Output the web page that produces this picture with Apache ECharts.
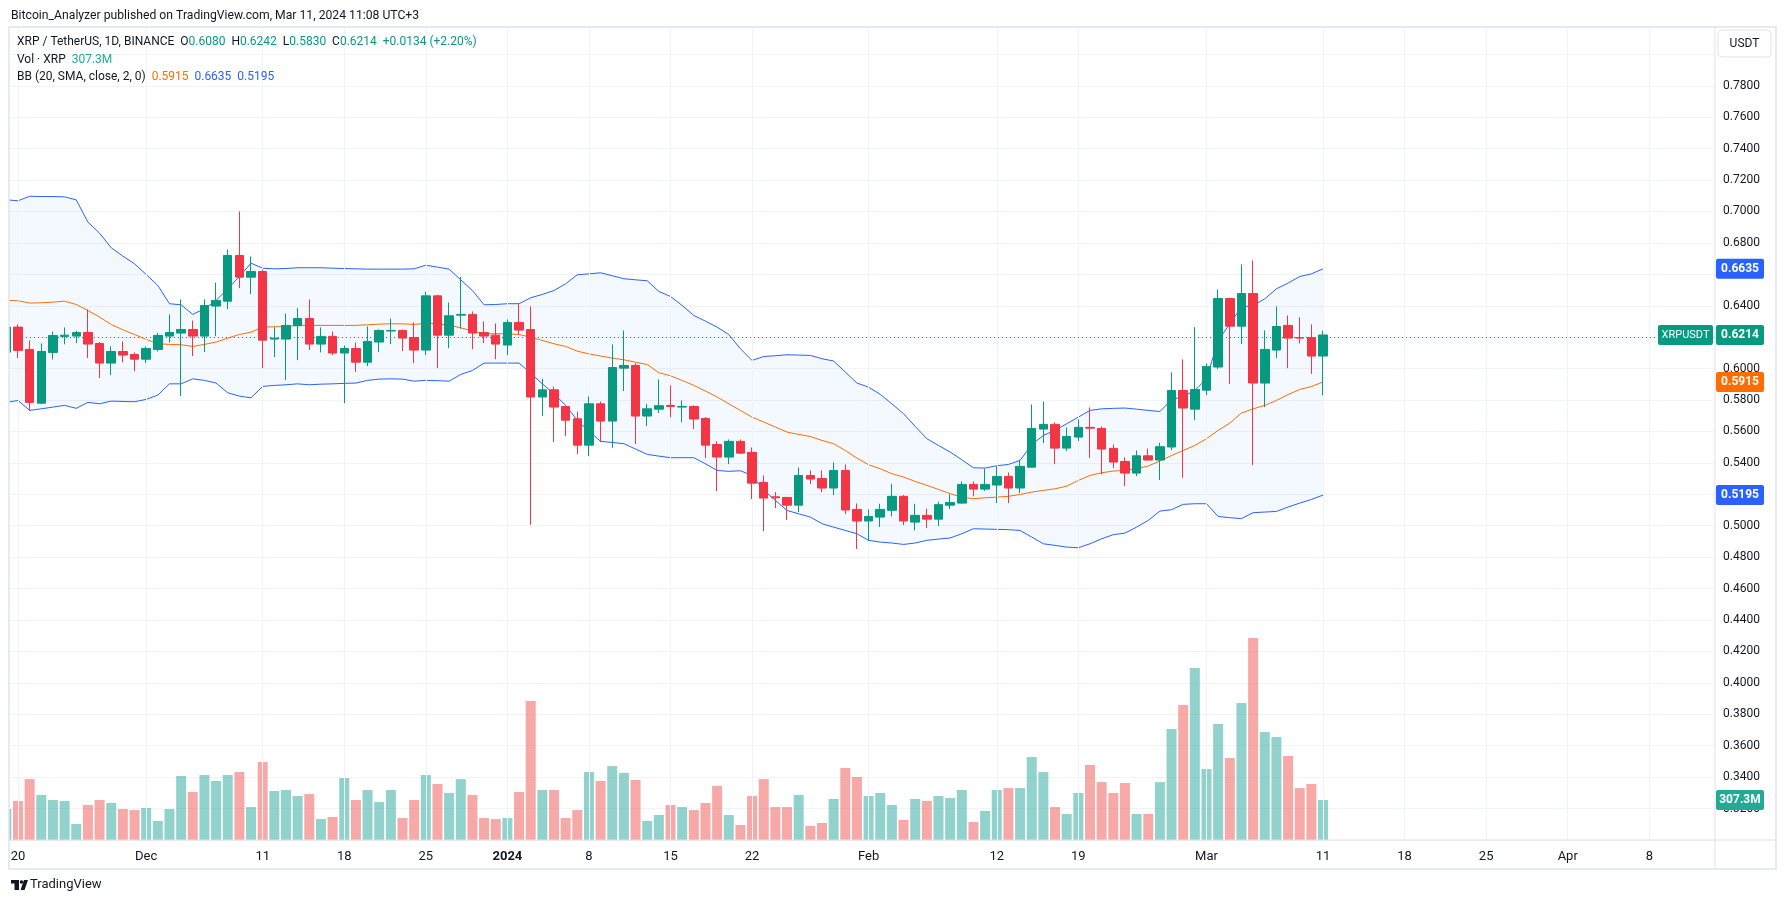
<!DOCTYPE html>
<html><head><meta charset="utf-8">
<script src="https://cdn.jsdelivr.net/npm/echarts@6/dist/echarts.min.js"></script>
<style>html,body{margin:0;padding:0;background:#fff}#c{width:1787px;height:904px}</style>
</head><body><div id="c"></div>
<script>
// ---------- DATA (index 0 = 2023-11-19, partially visible) ----------
const dates = ['11-19','11-20','11-21','11-22','11-23','11-24','11-25','11-26','11-27','11-28','11-29','11-30',
'12-01','12-02','12-03','12-04','12-05','12-06','12-07','12-08','12-09','12-10','12-11','12-12','12-13','12-14','12-15','12-16','12-17','12-18','12-19','12-20','12-21','12-22','12-23','12-24','12-25','12-26','12-27','12-28','12-29','12-30','12-31',
'01-01','01-02','01-03','01-04','01-05','01-06','01-07','01-08','01-09','01-10','01-11','01-12','01-13','01-14','01-15','01-16','01-17','01-18','01-19','01-20','01-21','01-22','01-23','01-24','01-25','01-26','01-27','01-28','01-29','01-30','01-31',
'02-01','02-02','02-03','02-04','02-05','02-06','02-07','02-08','02-09','02-10','02-11','02-12','02-13','02-14','02-15','02-16','02-17','02-18','02-19','02-20','02-21','02-22','02-23','02-24','02-25','02-26','02-27','02-28','02-29',
'03-01','03-02','03-03','03-04','03-05','03-06','03-07','03-08','03-09','03-10','03-11'];

const open = [0.6105,0.6264,0.6122,0.5780,0.6103,0.6205,0.6207,0.6230,0.6160,0.6035,0.6109,0.6090,
0.6060,0.6122,0.6207,0.6226,0.6249,0.6207,0.6398,0.6429,0.6720,0.6582,0.6618,0.6188,0.6188,0.6273,0.6319,0.6156,0.6205,0.6099,0.6128,0.6041,0.6169,0.6239,0.6243,0.6198,0.6118,0.6463,0.6213,0.6340,0.6345,0.6230,0.6213,
0.6150,0.6294,0.6249,0.5819,0.5865,0.5759,0.5681,0.5513,0.5776,0.5666,0.6003,0.6020,0.5698,0.5742,0.5766,0.5755,0.5759,0.5683,0.5517,0.5437,0.5537,0.5467,0.5276,0.5184,0.5180,0.5131,0.5320,0.5301,0.5240,0.5352,0.5104,
0.5030,0.5055,0.5098,0.5187,0.5023,0.5066,0.5042,0.5131,0.5144,0.5263,0.5233,0.5259,0.5314,0.5240,0.5373,0.5615,0.5645,0.5494,0.5564,0.5626,0.5619,0.5492,0.5409,0.5335,0.5445,0.5418,0.5501,0.5861,0.5742,
0.5863,0.6010,0.6446,0.6270,0.6478,0.5908,0.6118,0.6275,0.6198,0.6198,0.6080];

const close = [0.6264,0.6116,0.5785,0.6109,0.6211,0.6213,0.6230,0.6156,0.6035,0.6109,0.6086,0.6060,
0.6128,0.6211,0.6230,0.6249,0.6207,0.6402,0.6434,0.6720,0.6582,0.6618,0.6181,0.6194,0.6275,0.6319,0.6156,0.6205,0.6099,0.6128,0.6041,0.6173,0.6243,0.6243,0.6194,0.6118,0.6463,0.6213,0.6336,0.6345,0.6226,0.6207,0.6156,
0.6294,0.6245,0.5819,0.5865,0.5755,0.5672,0.5513,0.5776,0.5666,0.6007,0.6020,0.5698,0.5744,0.5764,0.5759,0.5759,0.5679,0.5513,0.5437,0.5537,0.5462,0.5271,0.5176,0.5178,0.5131,0.5320,0.5297,0.5240,0.5352,0.5100,0.5030,
0.5059,0.5104,0.5187,0.5030,0.5066,0.5042,0.5134,0.5148,0.5263,0.5233,0.5263,0.5314,0.5240,0.5378,0.5619,0.5645,0.5494,0.5568,0.5626,0.5621,0.5488,0.5405,0.5335,0.5445,0.5418,0.5503,0.5861,0.5749,0.5867,
0.6014,0.6446,0.6270,0.6478,0.5908,0.6122,0.6268,0.6194,0.6194,0.6080,0.6214];

const high = [0.6300,0.6281,0.6179,0.6160,0.6236,0.6262,0.6241,0.6376,0.6169,0.6141,0.6173,0.6103,
0.6141,0.6228,0.6345,0.6440,0.6306,0.6440,0.6548,0.6758,0.7000,0.6714,0.6631,0.6264,0.6351,0.6385,0.6440,0.6262,0.6236,0.6147,0.6166,0.6268,0.6249,0.6319,0.6249,0.6294,0.6489,0.6470,0.6421,0.6584,0.6364,0.6300,0.6287,
0.6313,0.6410,0.6396,0.5935,0.5884,0.5765,0.5727,0.5823,0.5791,0.6154,0.6243,0.6033,0.5776,0.5931,0.5893,0.5797,0.5766,0.5691,0.5537,0.5549,0.5549,0.5498,0.5320,0.5214,0.5182,0.5371,0.5352,0.5352,0.5403,0.5390,0.5142,
0.5104,0.5140,0.5267,0.5195,0.5140,0.5108,0.5153,0.5199,0.5282,0.5282,0.5363,0.5378,0.5339,0.5420,0.5772,0.5791,0.5657,0.5626,0.5677,0.5753,0.5632,0.5517,0.5435,0.5479,0.5492,0.5528,0.5976,0.6058,0.6264,
0.6033,0.6504,0.6450,0.6663,0.6688,0.6243,0.6396,0.6338,0.6326,0.6281,0.6242];

const low = [0.6050,0.6067,0.5730,0.5774,0.6058,0.6154,0.6162,0.6067,0.5940,0.5959,0.6039,0.5984,
0.6035,0.6109,0.6166,0.5825,0.6080,0.6105,0.6207,0.6379,0.6512,0.6474,0.6003,0.6073,0.5927,0.6054,0.6118,0.6103,0.6086,0.5780,0.5978,0.6016,0.6105,0.6156,0.6111,0.6035,0.6086,0.6003,0.6130,0.6253,0.6124,0.6162,0.6060,
0.6086,0.6217,0.5006,0.5698,0.5532,0.5570,0.5456,0.5443,0.5532,0.5494,0.5857,0.5520,0.5634,0.5717,0.5691,0.5660,0.5615,0.5431,0.5221,0.5392,0.5456,0.5170,0.4966,0.5112,0.5036,0.5087,0.5265,0.5214,0.5195,0.5074,0.4852,
0.4902,0.4992,0.5059,0.5004,0.4970,0.4985,0.4998,0.5106,0.5140,0.5187,0.5221,0.5144,0.5144,0.5208,0.5370,0.5526,0.5392,0.5475,0.5539,0.5431,0.5327,0.5367,0.5252,0.5316,0.5415,0.5291,0.5481,0.5305,0.5672,
0.5831,0.5997,0.5903,0.6156,0.5386,0.5755,0.6067,0.6003,0.6160,0.5965,0.5830];

// volume in millions of XRP
const volume = [238,300,468,346,307,300,123,269,307,284,238,230,
246,146,238,492,369,499,453,499,522,253,599,376,384,338,353,161,177,476,307,384,292,384,169,307,499,430,361,468,346,169,161,
169,369,1068,384,384,169,230,522,453,568,515,461,146,192,269,253,230,284,415,192,115,338,468,253,253,346,108,131,315,553,484,
338,361,269,154,315,300,338,323,384,138,223,384,399,399,637,522,253,200,361,576,445,361,438,200,200,445,852,1037,1321,
545,891,630,1052,1551,829,791,645,399,430,307.3];

const bbUpper = [0.7074,0.7068,0.7097,0.7095,0.7095,0.7093,0.7074,0.6932,0.6862,0.6769,0.6716,0.6667,
0.6599,0.6529,0.6413,0.6406,0.6345,0.6381,0.6434,0.6508,0.6586,0.6671,0.6639,0.6635,0.6637,0.6642,0.6642,0.6642,0.6639,0.6637,0.6635,0.6633,0.6633,0.6633,0.6633,0.6635,0.6658,0.6646,0.6633,0.6565,0.6497,0.6406,0.6408,
0.6413,0.6413,0.6451,0.6472,0.6497,0.6540,0.6597,0.6603,0.6610,0.6591,0.6572,0.6565,0.6559,0.6491,0.6459,0.6402,0.6338,0.6302,0.6264,0.6217,0.6126,0.6052,0.6077,0.6082,0.6088,0.6086,0.6084,0.6063,0.6048,0.5978,0.5908,
0.5882,0.5836,0.5776,0.5713,0.5632,0.5554,0.5511,0.5469,0.5420,0.5369,0.5367,0.5382,0.5390,0.5416,0.5515,0.5575,0.5607,0.5649,0.5691,0.5734,0.5744,0.5747,0.5749,0.5742,0.5734,0.5727,0.5802,0.5823,0.5861,
0.5935,0.6179,0.6285,0.6391,0.6402,0.6444,0.6508,0.6544,0.6586,0.6603,0.6635];

const bbMiddle = [0.6434,0.6432,0.6417,0.6419,0.6423,0.6429,0.6408,0.6370,0.6328,0.6281,0.6247,0.6217,
0.6186,0.6158,0.6154,0.6152,0.6141,0.6154,0.6169,0.6194,0.6217,0.6232,0.6264,0.6266,0.6268,0.6275,0.6275,0.6275,0.6275,0.6275,0.6275,0.6279,0.6283,0.6285,0.6285,0.6281,0.6289,0.6285,0.6275,0.6260,0.6239,0.6222,0.6222,
0.6222,0.6217,0.6200,0.6179,0.6158,0.6141,0.6111,0.6094,0.6080,0.6067,0.6056,0.6041,0.6026,0.5974,0.5954,0.5925,0.5893,0.5857,0.5819,0.5776,0.5734,0.5691,0.5660,0.5628,0.5596,0.5581,0.5568,0.5543,0.5522,0.5479,0.5431,
0.5388,0.5363,0.5331,0.5310,0.5282,0.5257,0.5231,0.5204,0.5182,0.5172,0.5178,0.5182,0.5187,0.5199,0.5214,0.5225,0.5235,0.5252,0.5288,0.5320,0.5337,0.5348,0.5352,0.5363,0.5380,0.5412,0.5447,0.5479,0.5511,
0.5554,0.5607,0.5653,0.5717,0.5744,0.5766,0.5797,0.5835,0.5867,0.5886,0.5915];

const bbLower = [0.5785,0.5797,0.5734,0.5744,0.5755,0.5766,0.5747,0.5785,0.5776,0.5793,0.5791,0.5789,
0.5804,0.5831,0.5903,0.5903,0.5935,0.5925,0.5908,0.5846,0.5825,0.5814,0.5887,0.5893,0.5897,0.5903,0.5897,0.5901,0.5903,0.5906,0.5908,0.5925,0.5933,0.5935,0.5933,0.5920,0.5925,0.5923,0.5920,0.5963,0.5988,0.6035,0.6035,
0.6035,0.6035,0.5971,0.5903,0.5840,0.5766,0.5670,0.5602,0.5537,0.5530,0.5522,0.5488,0.5454,0.5443,0.5433,0.5433,0.5433,0.5394,0.5352,0.5346,0.5350,0.5320,0.5225,0.5161,0.5097,0.5076,0.5055,0.5013,0.4991,0.4970,0.4949,
0.4907,0.4896,0.4890,0.4881,0.4890,0.4907,0.4915,0.4922,0.4949,0.4981,0.4979,0.4977,0.4975,0.4970,0.4928,0.4885,0.4875,0.4864,0.4860,0.4885,0.4917,0.4943,0.4953,0.4991,0.5034,0.5093,0.5102,0.5136,0.5140,
0.5140,0.5059,0.5051,0.5045,0.5083,0.5087,0.5091,0.5119,0.5144,0.5167,0.5195];

// x tick positions are day offsets from 2023-11-20
const tickDays = [0,11,21,28,35,42,49,56,63,73,84,91,102,112,119,126,133,140];
const tickLabels = ['20','Dec','11','18','25','2024','8','15','22','Feb','12','19','Mar','11','18','25','Apr','8'];
const priceTicks = {min:0.30, max:0.8174, step:0.02};

// ---------- CHART ----------
const FONT = 'Roboto, "Noto Sans", sans-serif';
const GREEN = '#089981', RED = '#F23645';
const n = dates.length;
const xOf = i => i - 1; // day offset from Nov 20
const candleData = dates.map((d,i)=>[xOf(i), open[i], close[i], low[i], high[i]]);
const volData = dates.map((d,i)=>({value:[xOf(i), volume[i]],
  itemStyle:{color: close[i] >= open[i] ? 'rgba(38,166,154,0.5)' : 'rgba(239,83,80,0.5)'}}));
const upData = dates.map((d,i)=>[xOf(i), bbUpper[i]]);
const midData = dates.map((d,i)=>[xOf(i), bbMiddle[i]]);
const lowData = dates.map((d,i)=>[xOf(i), bbLower[i]]);

const chart = echarts.init(document.getElementById('c'));
const volMax = 6244;
const option = {
  animation:false,
  textStyle:{fontFamily:FONT},
  grid:{left:10, right:72, top:27, bottom:64},
  xAxis:{type:'value', min:-0.6866, max:145.64,
    axisLine:{show:false}, axisTick:{show:false}, splitLine:{show:false},
    axisLabel:{customValues:tickDays, color:'#131722', fontSize:13, margin:10, fontFamily:FONT,
      formatter:v=>{const k=tickDays.indexOf(Math.round(v)); if(k<0) return ''; const t=tickLabels[k]; return t==='2024'?'{b|2024}':t;},
      rich:{b:{fontWeight:'bold', fontSize:13, color:'#131722', fontFamily:FONT}}}
  },
  yAxis:[
    {type:'value', position:'right', min:priceTicks.min, max:priceTicks.max, interval:priceTicks.step,
     axisLine:{show:true, lineStyle:{color:'#e0e3eb'}}, axisTick:{show:false},
     splitLine:{show:true, lineStyle:{color:'#f0f3fa', width:1}},
     axisLabel:{color:'#131722', fontSize:12, margin:8, fontFamily:FONT,
       formatter:v=>(v>0.31 && v<0.79)? v.toFixed(4) : ''}},
    {type:'value', min:0, max:volMax, show:false}
  ],
  series:[
    {type:'custom', name:'bbBand', data:[[0]], clip:true, z:1, silent:true,
     renderItem:(params, api)=>{
       const pts = [];
       for (let i=0;i<n;i++) pts.push(api.coord([xOf(i), bbUpper[i]]));
       for (let i=n-1;i>=0;i--) pts.push(api.coord([xOf(i), bbLower[i]]));
       return {type:'polygon', shape:{points:pts}, style:{fill:'rgba(33,150,243,0.055)'}};
     },
     markLine:{silent:true, symbol:['none','none'], label:{show:false}, animation:false,
       lineStyle:{color:'#f0f3fa', type:'solid', width:1},
       data: tickDays.map(v=>({xAxis:v}))}},
    {type:'bar', name:'Vol', data:volData, yAxisIndex:1, barWidth:10, z:2, silent:true},
    {type:'line', name:'upper', data:upData, symbol:'none', z:3, lineStyle:{color:'#2962FF', width:1}},
    {type:'line', name:'lower', data:lowData, symbol:'none', z:3, lineStyle:{color:'#2962FF', width:1}},
    {type:'line', name:'basis', data:midData, symbol:'none', z:3, lineStyle:{color:'#FF6D00', width:1}},
    {type:'candlestick', name:'XRPUSDT', data:candleData, encode:{x:0, y:[1,2,3,4]}, barWidth:9, z:5,
     itemStyle:{color:GREEN, color0:RED, borderColor:GREEN, borderColor0:RED, borderWidth:1},
     markLine:{silent:true, symbol:['none','none'], label:{show:false}, animation:false,
       lineStyle:{color:GREEN, type:[1,3], width:1},
       data:[{yAxis: close[n-1]}]}}
  ]
};
chart.setOption(option);

// ---------- labels & chrome ----------
const last = n-1;
const chg = close[last]-close[last-1];
const pct = chg/close[last-1]*100;
const fmt = v => v.toFixed(4);
function yP(v){ return chart.convertToPixel({yAxisIndex:0}, v); }
function yV(v){ return chart.convertToPixel({yAxisIndex:1}, v); }
const g = [];
// frame
const L=9, T=27, R=1776, B=869, AX=1715, XA=840;
g.push({type:'rect', shape:{x:0, y:0, width:L, height:904}, style:{fill:'#fff'}, z:45, silent:true});
g.push({type:'rect', shape:{x:L, y:T, width:R-L, height:B-T}, style:{fill:'none', stroke:'#e0e3eb', lineWidth:1.5}, z:50, silent:true});
g.push({type:'line', shape:{x1:L, y1:XA, x2:R, y2:XA}, style:{stroke:'#e0e3eb', lineWidth:1}, z:50, silent:true});
g.push({type:'line', shape:{x1:AX, y1:T, x2:AX, y2:B}, style:{stroke:'#e0e3eb', lineWidth:1}, z:50, silent:true});
// header
const F12 = '12px '+FONT;
g.push({type:'text', x:11, y:16, style:{text:'Bitcoin_Analyzer published on TradingView.com, Mar 11, 2024 11:08 UTC+3', fill:'#131722', font:'12.2px '+FONT, verticalAlign:'middle'}, z:60});
g.push({type:'text', x:17, y:42, style:{
  text:'XRP / TetherUS, 1D, BINANCE  O{g|'+fmt(open[last])+'}  H{g|'+fmt(high[last])+'}  L{g|'+fmt(low[last])+'}  C{g|'+fmt(close[last])+'}  {g|'+(chg>=0?'+':'')+fmt(chg)+' (+'+pct.toFixed(2)+'%)}',
  fill:'#131722', font:F12, verticalAlign:'middle', rich:{g:{fill:GREEN, font:F12}}}, z:60});
g.push({type:'text', x:17, y:60, style:{text:'Vol · XRP  {g|'+volume[last].toFixed(1)+'M}', fill:'#131722', font:F12, verticalAlign:'middle', rich:{g:{fill:'#22ab94', font:F12}}}, z:60});
g.push({type:'text', x:17, y:77, style:{text:'BB (20, SMA, close, 2, 0)  {o|'+fmt(bbMiddle[last])+'}  {b|'+fmt(bbUpper[last])+'}  {b|'+fmt(bbLower[last])+'}', fill:'#131722', font:F12, verticalAlign:'middle', rich:{o:{fill:'#FF6D00', font:F12}, b:{fill:'#2962FF', font:F12}}}, z:60});
// USDT button
g.push({type:'rect', shape:{x:1718, y:30, width:53, height:27, r:4}, style:{fill:'#fff', stroke:'#e0e3eb', lineWidth:1}, z:60});
g.push({type:'text', x:1744.5, y:43.5, style:{text:'USDT', fill:'#131722', font:F12, align:'center', verticalAlign:'middle'}, z:61});
// axis value boxes
function box(y, text, color){
  g.push({type:'rect', shape:{x:1716, y:y-10, width:48, height:20, r:2}, style:{fill:color}, z:70});
  g.push({type:'text', x:1740, y:y, style:{text:text, fill:'#fff', font:'bold 12px '+FONT, align:'center', verticalAlign:'middle'}, z:71});
}
box(yP(bbUpper[last]), fmt(bbUpper[last]), '#2962FF');
box(yP(close[last]), fmt(close[last]), GREEN);
box(yP(bbMiddle[last]), fmt(bbMiddle[last]), '#FF6D00');
box(yP(bbLower[last]), fmt(bbLower[last]), '#2962FF');
box(yV(volume[last]), volume[last].toFixed(1)+'M', '#22ab94');
// symbol tag
const yc = yP(close[last]);
g.push({type:'rect', shape:{x:1658, y:yc-10, width:55, height:20, r:2}, style:{fill:GREEN}, z:70});
g.push({type:'text', x:1685.5, y:yc, style:{text:'XRPUSDT', fill:'#fff', font:'11px '+FONT, align:'center', verticalAlign:'middle'}, z:71});
// TradingView logo
g.push({type:'rect', shape:{x:11, y:880, width:8, height:3.5}, style:{fill:'#131722'}, z:60});
g.push({type:'rect', shape:{x:14.5, y:880, width:4.5, height:10}, style:{fill:'#131722'}, z:60});
g.push({type:'circle', shape:{cx:21.5, cy:882, r:1.8}, style:{fill:'#131722'}, z:60});
g.push({type:'polygon', shape:{points:[[24,880],[28,880],[24.5,890],[20.5,890]]}, style:{fill:'#131722'}, z:60});
g.push({type:'text', x:30, y:885, style:{text:'TradingView', fill:'#131722', font:'13px '+FONT, verticalAlign:'middle'}, z:60});
chart.setOption({graphic:g});
</script>
</body></html>
